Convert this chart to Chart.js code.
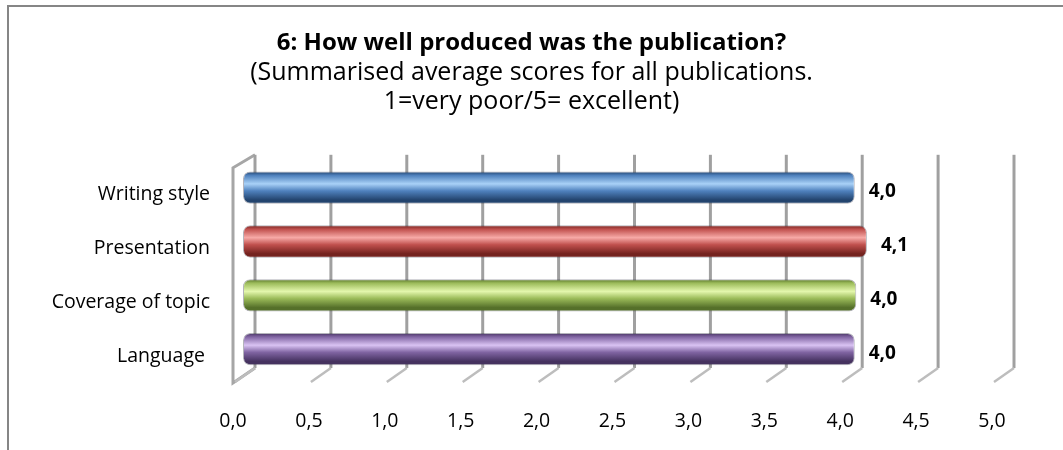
<!DOCTYPE html>
<html>
<head>
<meta charset="utf-8">
<script src="https://cdn.jsdelivr.net/npm/chart.js@4"></script>
<style>
  body { margin: 0; background: #fff; }
  #wrap { width: 1063px; height: 450px; position: relative; }
</style>
</head>
<body>
<div id="wrap"><canvas id="grafica"></canvas></div>
<script>
// datos del grafico
const categorias = ["Writing style", "Presentation", "Coverage of topic", "Language "];
const puntuaciones = [4.03, 4.11, 4.04, 4.03];
const marcasEje = [0, 0.5, 1, 1.5, 2, 2.5, 3, 3.5, 4, 4.5, 5];

// colores de cilindro: [oscuro, base, brillo]
const coloresBarra = [
  ["#23446e", "#4f81bd", "#a9d1f7"],
  ["#74231f", "#c0504d", "#f7aaa7"],
  ["#55702a", "#9bbb59", "#e4f7ad"],
  ["#45325f", "#8064a2", "#d9c3f3"]
];

const FUENTE = "'Open Sans', Lato, sans-serif";
const GROSOR = 0.6;                // fraccion de la categoria que ocupa la barra
const PROF_X = 22, PROF_Y = -13;   // profundidad 3D de la pared del fondo
const BARRA_X = 10, BARRA_Y = -7;  // barras a media profundidad

const coma = v => v.toFixed(1).replace(".", ",");

// relleno tipo cilindro
function rellenoCilindro(ctx) {
  const chart = ctx.chart;
  const c = coloresBarra[ctx.dataIndex];
  if (!chart.chartArea) return c[1];
  const y = chart.scales.y;
  const centro = y.getPixelForValue(ctx.dataIndex);
  const alto = (chart.chartArea.bottom - chart.chartArea.top) / categorias.length * GROSOR;
  const g = chart.ctx.createLinearGradient(0, centro - alto / 2, 0, centro + alto / 2);
  g.addColorStop(0, c[0]);
  g.addColorStop(0.12, c[1]);
  g.addColorStop(0.38, c[2]);
  g.addColorStop(0.6, c[1]);
  g.addColorStop(0.88, c[0]);
  g.addColorStop(1, c[0]);
  return g;
}

// marco, rejilla 3D y etiquetas de valor
const plugin3D = {
  id: "plugin3D",
  beforeDraw(chart) {
    const ctx = chart.ctx;
    ctx.save();
    ctx.strokeStyle = "#868686";
    ctx.lineWidth = 2;
    ctx.strokeRect(8, 6, 1200, 600);
    ctx.restore();
  },
  beforeDatasetsDraw(chart) {
    const ctx = chart.ctx;
    const a = chart.chartArea;
    const x = chart.scales.x;
    ctx.save();
    ctx.lineCap = "butt";
    marcasEje.forEach(v => {
      const fx = x.getPixelForValue(v);
      const bx = fx + PROF_X;
      const arriba = a.top + PROF_Y;
      const abajo = a.bottom + PROF_Y - 2;
      if (v === 0) {
        // pared izquierda
        ctx.strokeStyle = "#a6a6a6";
        ctx.lineWidth = 3;
        ctx.beginPath();
        ctx.moveTo(bx, arriba);
        ctx.lineTo(fx, a.top);
        ctx.lineTo(fx, a.bottom);
        ctx.lineTo(bx, abajo);
        ctx.stroke();
      }
      ctx.strokeStyle = "#a0a0a0";
      ctx.lineWidth = 3;
      ctx.beginPath();
      ctx.moveTo(bx, arriba);
      ctx.lineTo(bx, abajo);
      ctx.stroke();
      ctx.strokeStyle = "#bdbdbd";
      ctx.lineWidth = 2.5;
      ctx.beginPath();
      ctx.moveTo(bx, abajo);
      ctx.lineTo(fx + 2, a.bottom - 1);
      ctx.stroke();
    });
    ctx.restore();
    ctx.save();
    ctx.translate(BARRA_X, BARRA_Y);
  },
  afterDatasetsDraw(chart) {
    const ctx = chart.ctx;
    ctx.restore();
    const meta = chart.getDatasetMeta(0);
    ctx.save();
    ctx.fillStyle = "#000";
    ctx.font = "bold 19px " + FUENTE;
    ctx.textAlign = "left";
    ctx.textBaseline = "middle";
    meta.data.forEach((bar, i) => {
      ctx.fillText(coma(puntuaciones[i]), bar.x + 24, bar.y - 3);
    });
    ctx.restore();
  }
};

const chart = new Chart(document.getElementById("grafica").getContext("2d"), {
  type: "bar",
  data: {
    labels: categorias,
    datasets: [{
      data: puntuaciones,
      backgroundColor: rellenoCilindro,
      borderColor: "rgba(40,40,60,0.35)",
      borderWidth: 1,
      borderRadius: 7,
      borderSkipped: false,
      barPercentage: GROSOR,
      categoryPercentage: 1
    }]
  },
  options: {
    indexAxis: "y",
    responsive: true,
    maintainAspectRatio: false,
    animation: false,
    layout: { padding: { left: 45, right: 45, top: 0, bottom: 0 } },
    plugins: {
      legend: { display: false },
      tooltip: { enabled: false },
      title: {
        display: true,
        text: "6: How well produced was the publication?",
        color: "#000",
        font: { family: FUENTE, size: 24, weight: "bold", lineHeight: 1.2 },
        padding: { top: 29, bottom: 1 }
      },
      subtitle: {
        display: true,
        text: ["(Summarised average scores for all publications.", "1=very poor/5= excellent)"],
        color: "#000",
        font: { family: FUENTE, size: 25, lineHeight: 1.16 },
        padding: { top: 0, bottom: 51 }
      }
    },
    scales: {
      x: {
        min: 0,
        max: 5,
        afterBuildTicks: s => { s.ticks = marcasEje.map(v => ({ value: v })); },
        grid: { display: false, drawTicks: false },
        border: { display: false },
        ticks: {
          color: "#000",
          font: { family: FUENTE, size: 19.5 },
          padding: 27,
          maxRotation: 0,
          callback: v => coma(v)
        },
        afterFit: s => { s.height = 67; }
      },
      y: {
        grid: { display: false, drawTicks: false },
        border: { display: false },
        ticks: {
          color: "#000",
          font: { family: FUENTE, size: 19.5 },
          padding: 23
        },
        afterFit: s => { s.width = 188; }
      },
      // eje vacio a la derecha para dejar el hueco del grafico original
      hueco: {
        type: "linear",
        position: "right",
        grid: { display: false, drawTicks: false },
        border: { display: false },
        ticks: { display: false },
        afterFit: s => { s.width = 26; }
      }
    }
  },
  plugins: [plugin3D]
});
</script>
</body>
</html>
